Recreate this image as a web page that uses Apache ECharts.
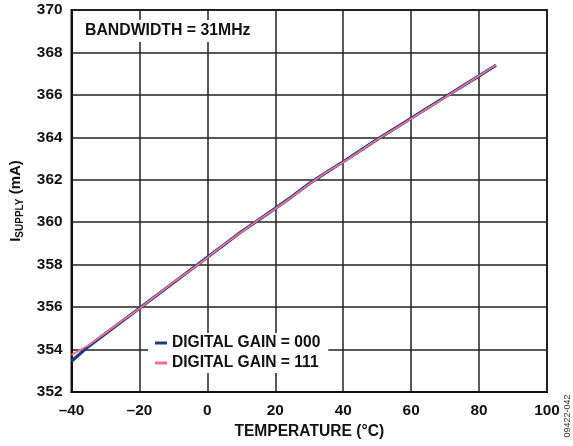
<!DOCTYPE html>
<html>
<head>
<meta charset="utf-8">
<script src="https://cdn.jsdelivr.net/npm/echarts@6/dist/echarts.min.js"></script>
<style>
html,body{margin:0;padding:0;background:#fff;}
#chart{width:573px;height:446px;}
</style>
</head>
<body>
<div id="chart"></div>
<script>
var temperatures = [-40, -35, -30, -25, -20, -15, -10, -5, 0, 5, 10, 15, 20, 25, 30, 35, 40, 45, 50, 55, 60, 65, 70, 75, 80, 85];
var gain000 = [353.45, 354.15, 354.75, 355.35, 355.95, 356.55, 357.15, 357.75, 358.35, 358.95, 359.55, 360.1, 360.65, 361.22, 361.82, 362.35, 362.85, 363.37, 363.9, 364.4, 364.9, 365.4, 365.9, 366.4, 366.9, 367.4];
var gain111 = [353.75, 354.2, 354.78, 355.37, 355.93, 356.56, 357.17, 357.74, 358.33, 358.96, 359.53, 360.1, 360.63, 361.2, 361.8, 362.35, 362.83, 363.36, 363.9, 364.38, 364.88, 365.38, 365.88, 366.4, 366.9, 367.42];
var seriesNames = ['DIGITAL GAIN = 000', 'DIGITAL GAIN = 111'];
var xTicks = [-40, -20, 0, 20, 40, 60, 80, 100];
var yTicks = [352, 354, 356, 358, 360, 362, 364, 366, 368, 370];
var annotationText = 'BANDWIDTH = 31MHz';
var xTitle = 'TEMPERATURE (\u00B0C)';
var figureId = '09422-042';

var FONT = 'Arial, "Liberation Sans", Helvetica, sans-serif';

function pairs(xs, ys) {
  return xs.map(function (x, i) { return [x, ys[i]]; });
}

var chart = echarts.init(document.getElementById('chart'), null, {renderer: 'canvas'});
chart.setOption({
  animation: false,
  backgroundColor: '#fff',
  textStyle: {fontFamily: FONT},
  grid: {left: 69, top: 10, right: 26, bottom: 54, show: true, borderColor: '#222', borderWidth: 2, backgroundColor: 'transparent'},
  title: {
    text: annotationText,
    left: 79, top: 20,
    padding: [3, 6, 3, 6],
    backgroundColor: '#fff',
    textStyle: {fontFamily: FONT, fontSize: 15.8, fontWeight: 'bold', color: '#111', lineHeight: 16}
  },
  legend: {
    orient: 'vertical',
    left: 148, top: 333,
    padding: [2, 8, 2, 7],
    backgroundColor: '#fff',
    itemWidth: 12, itemHeight: 3, itemGap: 4,
    data: [
      {name: seriesNames[0], icon: 'rect'},
      {name: seriesNames[1], icon: 'rect'}
    ],
    textStyle: {fontFamily: FONT, fontSize: 15.6, fontWeight: 'bold', color: '#111', lineHeight: 15, padding: [0, 0, 0, 0]}
  },
  xAxis: {
    type: 'value',
    min: xTicks[0], max: xTicks[xTicks.length - 1], interval: 20,
    name: xTitle,
    nameLocation: 'middle', nameGap: 32,
    nameTextStyle: {fontFamily: FONT, fontSize: 15.6, fontWeight: 'bold', color: '#111'},
    axisLine: {show: true, onZero: false, lineStyle: {color: '#111', width: 2}},
    axisTick: {show: false},
    splitLine: {show: true, lineStyle: {color: '#222', width: 1.5}},
    axisLabel: {
      margin: 11, fontFamily: FONT, fontSize: 15.4, fontWeight: 'bold', color: '#111',
      formatter: function (v) { return String(v).replace('-', '\u2013'); }
    }
  },
  yAxis: {
    type: 'value',
    min: yTicks[0], max: yTicks[yTicks.length - 1], interval: 2,
    name: '{a|I}{b|SUPPLY}{a| (mA)}',
    nameLocation: 'middle', nameGap: 46, nameRotate: 90,
    nameTextStyle: {
      rich: {
        a: {fontFamily: FONT, fontSize: 15, fontWeight: 'bold', color: '#111', lineHeight: 20, verticalAlign: 'middle'},
        b: {fontFamily: FONT, fontSize: 10, fontWeight: 'bold', color: '#111', lineHeight: 10, verticalAlign: 'bottom'}
      }
    },
    axisLine: {show: true, onZero: false, lineStyle: {color: '#111', width: 2}},
    axisTick: {show: false},
    splitLine: {show: true, lineStyle: {color: '#222', width: 1.5}},
    axisLabel: {margin: 9, fontFamily: FONT, fontSize: 15.4, fontWeight: 'bold', color: '#111'}
  },
  graphic: [{
    type: 'text',
    x: 568, y: 416,
    rotation: Math.PI / 2,
    style: {text: figureId, fontFamily: FONT, fontSize: 9, fill: '#333', align: 'center', verticalAlign: 'middle'}
  }],
  series: [
    {
      name: seriesNames[0], type: 'line', data: pairs(temperatures, gain000),
      symbol: 'none', showSymbol: false, smooth: false, z: 3,
      lineStyle: {color: '#1c3a88', width: 3.2},
      itemStyle: {color: '#1c3a88'}
    },
    {
      name: seriesNames[1], type: 'line', data: pairs(temperatures, gain111),
      symbol: 'none', showSymbol: false, smooth: false, z: 4,
      lineStyle: {color: '#ef6f8e', width: 1.8},
      itemStyle: {color: '#ef6f8e'}
    }
  ]
});
</script>
</body>
</html>
